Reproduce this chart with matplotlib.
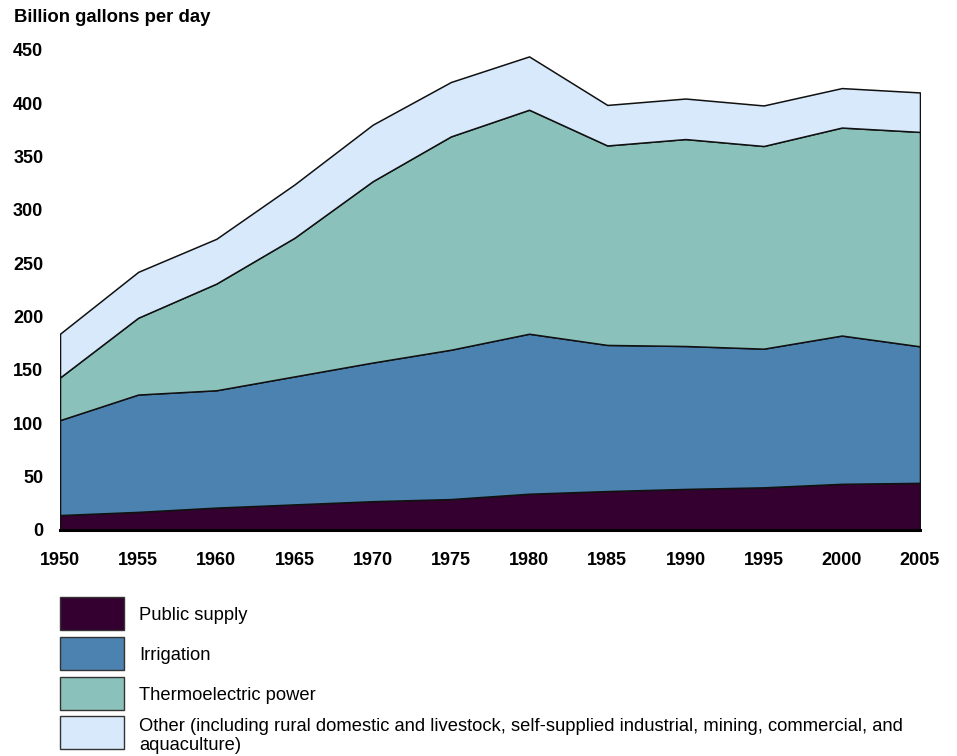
import matplotlib
matplotlib.use("Agg")
import matplotlib.pyplot as plt
from matplotlib.patches import Rectangle

years = [1950, 1955, 1960, 1965, 1970, 1975, 1980, 1985, 1990, 1995, 2000, 2005]
public_supply = [14, 17, 21, 24, 27, 29, 34, 36.5, 38.5, 40, 43.3, 44.2]
irrigation = [89, 110, 110, 120, 130, 140, 150, 137, 134, 130, 139, 128]
thermoelectric = [40, 72, 100, 130, 170, 200, 210, 187, 194, 190, 195, 201]
other = [41, 43, 42, 50, 53, 51, 50, 38, 38, 38, 37, 37]

labels = ["Public supply", "Irrigation", "Thermoelectric power",
          "Other (including rural domestic and livestock, self-supplied industrial, mining, commercial, and\naquaculture)"]
colors = ["#330030", "#4c82b0", "#8bc1bb", "#d7e9fb"]
yticks = [0, 50, 100, 150, 200, 250, 300, 350, 400, 450]

plt.rcParams['font.family'] = ['Liberation Sans', 'DejaVu Sans']

W, H = 957, 756
fig = plt.figure(figsize=(W / 100, H / 100), dpi=100)
ax = fig.add_axes([60 / W, 1 - 530 / H, 860 / W, 480 / H])

ax.stackplot(years, public_supply, irrigation, thermoelectric, other,
             colors=colors, edgecolor="#111111", linewidth=1.1)

ax.set_xlim(1950, 2005)
ax.set_ylim(0, 450)
ax.set_xticks(years)
ax.set_xticklabels([str(y) for y in years], fontsize=13, fontweight="bold")
ax.set_yticks(yticks)
ax.set_yticklabels([str(v) for v in yticks], fontsize=13, fontweight="bold")
ax.tick_params(axis="both", length=0)
ax.tick_params(axis="y", pad=12)
ax.tick_params(axis="x", pad=16)
for s in ["top", "right", "left"]:
    ax.spines[s].set_visible(False)
ax.spines["bottom"].set_color("#000000")
ax.spines["bottom"].set_linewidth(2.2)
ax.spines["bottom"].set_zorder(5)

fig.text(14 / W, 1 - 18 / H, "Billion gallons per day", fontsize=13.3,
         fontweight="bold", ha="left", va="center")

# legend
box_tops = [597, 637, 677, 716]
for top, c, lab in zip(box_tops, colors, labels):
    fig.patches.append(Rectangle((60 / W, 1 - (top + 33) / H), 64 / W, 33 / H,
                                 transform=fig.transFigure, facecolor=c,
                                 edgecolor="#333333", linewidth=1.0))
    if "\n" not in lab:
        fig.text(139 / W, 1 - (top + 18) / H, lab, fontsize=13.2,
                 ha="left", va="center")
    else:
        fig.text(139 / W, 1 - (top + 2) / H, lab, fontsize=13.2,
                 ha="left", va="top", linespacing=1.12)

fig.savefig("out.png", dpi=100)
